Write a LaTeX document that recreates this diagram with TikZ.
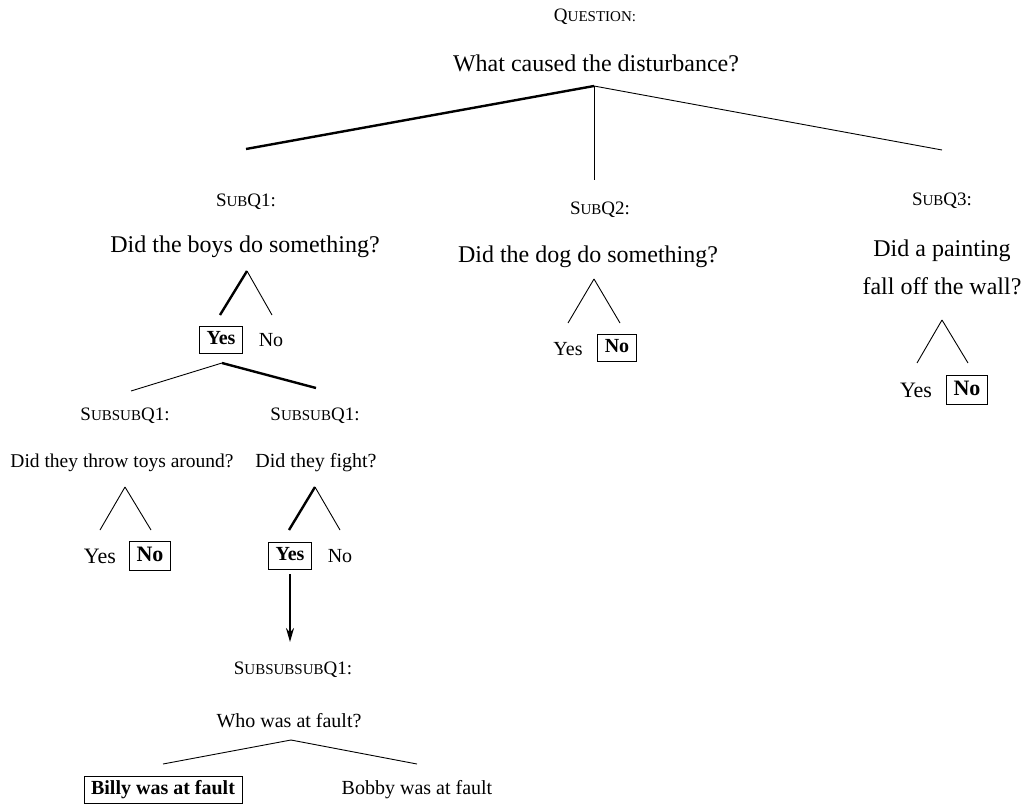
\documentclass[tikz,border=0pt]{standalone}
\usepackage{fontspec}
\setmainfont{Liberation Serif}
\usetikzlibrary{arrows.meta}

% lowered capitals used for the level labels
\newcommand\lowcaps[1]{{\fontsize{15}{18}\selectfont #1}}

\begin{document}
\begin{tikzpicture}[x=1pt,y=-1pt,
  thinedge/.style={line width=0.9pt},
  boldedge/.style={line width=2.4pt},
  levellabel/.style={inner sep=0pt,font=\fontsize{19}{22}\selectfont},
  bigq/.style={inner sep=0pt,font=\fontsize{24}{28}\selectfont},
  midq/.style={inner sep=0pt,font=\fontsize{20}{24}\selectfont},
  bigans/.style={inner sep=0pt,font=\fontsize{22}{26}\selectfont},
  smallans/.style={inner sep=0pt,font=\fontsize{20}{24}\selectfont},
  picksmall/.style={draw,line width=0.9pt,inner xsep=7pt,inner ysep=4pt,
    text height=14.5pt,text depth=5pt,font=\fontsize{20}{24}\selectfont\bfseries},
  pickbig/.style={draw,line width=0.9pt,inner xsep=7pt,inner ysep=4pt,
    text height=16pt,text depth=5.5pt,font=\fontsize{22}{26}\selectfont\bfseries},
  descend/.style={line width=2pt,-{Stealth[length=14pt,width=8pt]},shorten <=4pt}
]
\useasboundingbox (0,0) rectangle (1028,808);

% ---------- root question ----------
\node[levellabel] (qlab) at (595,17) {Q\lowcaps{UESTION:}};
\node[bigq] (q) at (596,63) {What caused the disturbance?};
\coordinate (q-fork) at (594,86);
\coordinate (q-l) at (246,149);
\coordinate (q-m) at (594,180);
\coordinate (q-r) at (942,150);
\draw[boldedge] (q-fork) -- (q-l);
\draw[thinedge] (q-fork) -- (q-m);
\draw[thinedge] (q-fork) -- (q-r);

% ---------- SubQ1 ----------
\node[levellabel] (s1lab) at (246,202) {S\lowcaps{UB}Q1:};
\node[bigq] (s1) at (245,247) {Did the boys do something?};
\coordinate (s1-fork) at (247,271);
\coordinate (s1-l) at (220,315);
\coordinate (s1-r) at (272,315);
\draw[boldedge] (s1-fork) -- (s1-l);
\draw[thinedge] (s1-fork) -- (s1-r);
\node[picksmall] (s1yes) at (221,340) {Yes};
\node[smallans] (s1no) at (271,340) {No};
\coordinate (y1-fork) at (222,363);
\coordinate (y1-l) at (131,391);
\coordinate (y1-r) at (316,388);
\draw[thinedge] (y1-fork) -- (y1-l);
\draw[boldedge] (y1-fork) -- (y1-r);

% ---------- SubsubQ1 (throwing toys) ----------
\node[levellabel] (ss1lab) at (125,416) {S\lowcaps{UBSUB}Q1:};
\node[midq,font=\fontsize{19.5}{24}\selectfont] (ss1) at (122,463) {Did they throw toys around?};
\coordinate (ss1-fork) at (125,487);
\coordinate (ss1-l) at (100,530);
\coordinate (ss1-r) at (151,530);
\draw[thinedge] (ss1-fork) -- (ss1-l);
\draw[thinedge] (ss1-fork) -- (ss1-r);
\node[bigans] (ss1yes) at (100,556) {Yes};
\node[pickbig] (ss1no) at (150,556) {No};

% ---------- SubsubQ1 (fighting) ----------
\node[levellabel] (ss2lab) at (315,416) {S\lowcaps{UBSUB}Q1:};
\node[midq] (ss2) at (316,463) {Did they fight?};
\coordinate (ss2-fork) at (315,487);
\coordinate (ss2-l) at (289,530);
\coordinate (ss2-r) at (340,530);
\draw[boldedge] (ss2-fork) -- (ss2-l);
\draw[thinedge] (ss2-fork) -- (ss2-r);
\node[picksmall] (ss2yes) at (290,556) {Yes};
\node[smallans] (ss2no) at (340,556) {No};
\coordinate (arr-end) at (290,642);
\draw[descend] (ss2yes) -- (arr-end);

% ---------- SubsubsubQ1 ----------
\node[levellabel] (ssslab) at (293,670) {S\lowcaps{UBSUBSUB}Q1:};
\node[midq] (sss) at (289,721) {Who was at fault?};
\coordinate (sss-fork) at (291,740);
\coordinate (sss-l) at (163,764);
\coordinate (sss-r) at (417,764);
\draw[thinedge] (sss-fork) -- (sss-l);
\draw[thinedge] (sss-fork) -- (sss-r);
\node[picksmall] (billy) at (163,790) {Billy was at fault};
\node[midq] (bobby) at (417,790) {Bobby was at fault};

% ---------- SubQ2 ----------
\node[levellabel] (s2lab) at (600,210) {S\lowcaps{UB}Q2:};
\node[bigq] (s2) at (588,257) {Did the dog do something?};
\coordinate (s2-fork) at (594,279);
\coordinate (s2-l) at (568,323);
\coordinate (s2-r) at (620,323);
\draw[thinedge] (s2-fork) -- (s2-l);
\draw[thinedge] (s2-fork) -- (s2-r);
\node[smallans] (s2yes) at (568,349) {Yes};
\node[picksmall] (s2no) at (617,348) {No};

% ---------- SubQ3 ----------
\node[levellabel] (s3lab) at (942,201) {S\lowcaps{UB}Q3:};
\node[bigq] (s3a) at (942,251) {Did a painting};
\node[bigq] (s3b) at (942,286) {fall off the wall?};
\coordinate (s3-fork) at (942,320);
\coordinate (s3-l) at (917,363);
\coordinate (s3-r) at (968,363);
\draw[thinedge] (s3-fork) -- (s3-l);
\draw[thinedge] (s3-fork) -- (s3-r);
\node[bigans] (s3yes) at (916,390) {Yes};
\node[pickbig] (s3no) at (967,390) {No};
\end{tikzpicture}
\end{document}
